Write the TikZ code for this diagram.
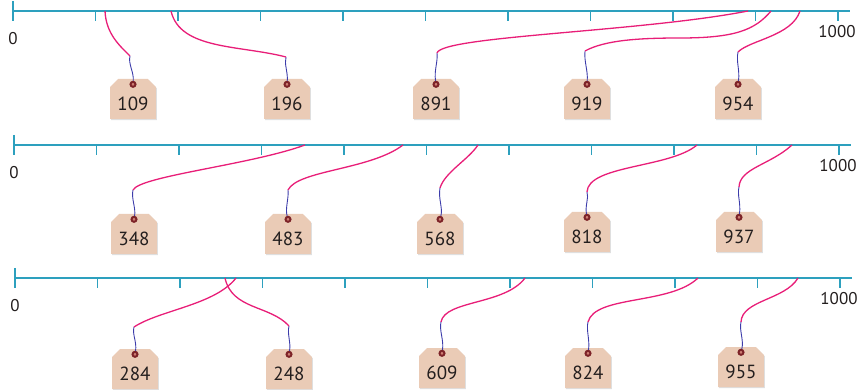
\documentclass[tikz,border=0pt]{standalone}
\usepackage{fontspec}
\setmainfont{PT Sans}
\usetikzlibrary{shapes.misc, shadows}
\definecolor{linecol}{RGB}{45,160,190}
\definecolor{tagfill}{RGB}{234,203,182}
\definecolor{holered}{RGB}{125,35,40}
\definecolor{holepink}{RGB}{205,125,115}
\definecolor{strblue}{RGB}{60,60,170}
\definecolor{strpink}{RGB}{232,30,120}
\definecolor{digitcol}{RGB}{35,30,30}

\begin{document}
\begin{tikzpicture}[
    x=1pt, y=-1pt,
    numline/.style={draw=linecol, line width=1.3pt},
    tickmark/.style={draw=linecol, line width=1.1pt},
    endlabel/.style={font=\fontsize{17}{19}\selectfont, text=digitcol},
    tagbox/.style={chamfered rectangle, chamfered rectangle corners={north west, north east},
        chamfered rectangle xsep=4pt, chamfered rectangle ysep=4pt, fill=tagfill,
        minimum width=45pt, minimum height=40pt, text height=23pt, text depth=0pt,
        font=\fontsize{19}{22}\selectfont, text=digitcol,
        drop shadow={shadow xshift=1pt, shadow yshift=-1.2pt, opacity=0.25}},
    hole/.style={circle, draw=holered, line width=2pt, fill=holepink, inner sep=0pt, minimum size=5pt},
    bluestr/.style={draw=strblue, line width=0.9pt},
    pinkstr/.style={draw=strpink, line width=1.3pt}
]
    \useasboundingbox (0,0) rectangle (857,390);

    % number lines 0 ... 1000
    \foreach \r/\ly/\lx in {1/11/13, 2/145/14, 3/278/15} {
        \draw[numline] (\lx,\ly) -- ({\lx+837},\ly);
        \draw[tickmark] (\lx,{\ly-10}) -- (\lx,{\ly+10});
        \foreach \i in {1,...,10}
            \draw[tickmark] ({\lx+82.5*\i},\ly) -- ++(0,10);
        \node[endlabel] (zero\r) at (\lx,{\ly+28}) {0};
        \node[endlabel] (top\r) at ({\lx+824},{\ly+21}) {1000};
    }

    % tags
    \foreach \val/\x/\y in {109/133/99, 196/287/99, 891/436/99, 919/587/99, 954/738/99,
                            348/134/234, 483/288/234, 568/440/234, 818/587/232, 937/739/232,
                            284/135/369, 248/289/369, 609/442/368, 824/588/368, 955/741/367} {
        \node[tagbox] (t\val) at (\x,\y) {\val};
        \node[hole] (h\val) at ([yshift=-5.5pt]t\val.north) {};
    }

    % strings, first row
    \coordinate (k109) at (130,56);  \coordinate (e109) at (105,11);
    \coordinate (k196) at (286,57);  \coordinate (e196) at (171,11);
    \coordinate (k891) at (437,53);  \coordinate (e891) at (748,11);
    \coordinate (k919) at (585,51);  \coordinate (e919) at (771,11);
    \coordinate (k954) at (738,52);  \coordinate (e954) at (800,11);
    \draw[bluestr] (h109) .. controls (134,72) and (128,64) .. (k109);
    \draw[pinkstr] (k109) .. controls (120,46) and (106,34) .. (e109);
    \draw[bluestr] (h196) .. controls (288,72) and (284,64) .. (k196);
    \draw[pinkstr] (k196) .. controls (240,45) and (180,50) .. (e196);
    \draw[bluestr] (h891) .. controls (434,70) and (438,62) .. (k891);
    \draw[pinkstr] (k891) .. controls (442,36) and (640,32) .. (e891);
    \draw[bluestr] (h919) .. controls (588,70) and (584,62) .. (k919);
    \draw[pinkstr] (k919) .. controls (605,40) and (640,38) .. (680,38)
                          .. controls (735,38) and (755,30) .. (e919);
    \draw[bluestr] (h954) .. controls (740,70) and (736,62) .. (k954);
    \draw[pinkstr] (k954) .. controls (750,40) and (792,36) .. (e954);

    % strings, second row
    \coordinate (k348) at (133,190); \coordinate (e348) at (305,145);
    \coordinate (k483) at (288,190); \coordinate (e483) at (403,145);
    \coordinate (k568) at (440,188); \coordinate (e568) at (478,145);
    \coordinate (k818) at (587,192); \coordinate (e818) at (697,145);
    \coordinate (k937) at (739,187); \coordinate (e937) at (792,145);
    \draw[bluestr] (h348) .. controls (136,208) and (131,198) .. (k348);
    \draw[pinkstr] (k348) .. controls (140,176) and (250,165) .. (e348);
    \draw[bluestr] (h483) .. controls (285,208) and (289,198) .. (k483);
    \draw[pinkstr] (k483) .. controls (298,170) and (370,170) .. (e483);
    \draw[bluestr] (h568) .. controls (443,208) and (438,198) .. (k568);
    \draw[pinkstr] (k568) .. controls (445,172) and (468,160) .. (e568);
    \draw[bluestr] (h818) .. controls (585,205) and (589,198) .. (k818);
    \draw[pinkstr] (k818) .. controls (588,165) and (670,168) .. (e818);
    \draw[bluestr] (h937) .. controls (741,203) and (737,195) .. (k937);
    \draw[pinkstr] (k937) .. controls (740,168) and (770,165) .. (e937);

    % strings, third row
    \coordinate (k284) at (134,327); \coordinate (e284) at (236,278);
    \coordinate (k248) at (289,326); \coordinate (e248) at (225,278);
    \coordinate (k609) at (441,322); \coordinate (e609) at (525,278);
    \coordinate (k824) at (588,322); \coordinate (e824) at (698,278);
    \coordinate (k955) at (741,322); \coordinate (e955) at (798,278);
    \draw[bluestr] (h284) .. controls (137,342) and (132,334) .. (k284);
    \draw[pinkstr] (k284) .. controls (160,310) and (215,305) .. (e284);
    \draw[bluestr] (h248) .. controls (291,342) and (287,334) .. (k248);
    \draw[pinkstr] (k248) .. controls (270,305) and (232,310) .. (e248);
    \draw[bluestr] (h609) .. controls (444,340) and (439,330) .. (k609);
    \draw[pinkstr] (k609) .. controls (445,300) and (505,305) .. (e609);
    \draw[bluestr] (h824) .. controls (590,340) and (586,330) .. (k824);
    \draw[pinkstr] (k824) .. controls (595,295) and (670,305) .. (e824);
    \draw[bluestr] (h955) .. controls (744,340) and (739,330) .. (k955);
    \draw[pinkstr] (k955) .. controls (742,300) and (785,300) .. (e955);
\end{tikzpicture}
\end{document}
